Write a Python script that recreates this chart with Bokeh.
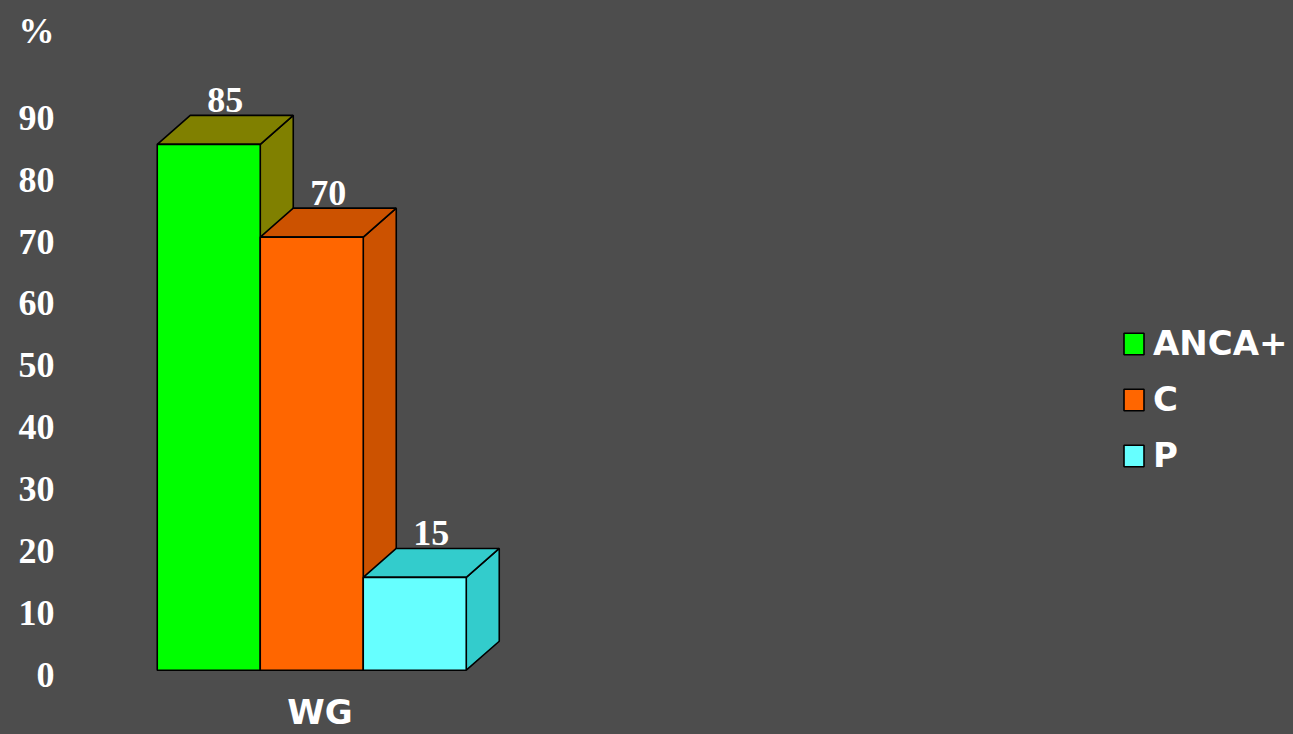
from bokeh.plotting import figure
from bokeh.models import (Range1d, LinearAxis, FixedTicker, Legend, LegendItem,
                          ColumnDataSource)
from bokeh.core.properties import value
from bokeh.embed import file_html
from bokeh.resources import INLINE

# ---------------- data ----------------
categories = ["WG"]
series = ["ANCA+", "C", "P"]
values = [85, 70, 15]
y_ticks = [0, 10, 20, 30, 40, 50, 60, 70, 80, 90]
y_unit = "%"

# ---------------- style ----------------
BG = "#4D4D4D"
front_colors = ["#00FF00", "#FF6600", "#66FFFF"]
side_colors = ["#808000", "#CC5200", "#33CCCC"]
TXT = "#FFFFFF"

W, H = 1293, 734
LB = 68                          # left border (frame starts here)
FRAME_BOTTOM = 676               # pixel row of frame bottom
BASE = 670.7                     # pixel row of bar baseline
BB = H - FRAME_BOTTOM
frame_w, frame_h = W - LB, FRAME_BOTTOM
PX_X = 103.0                     # pixels per bar width
PX_Y = 6.196                     # pixels per percent
DX = 33 / PX_X                   # depth offset (x, data units)
DY = 29 / PX_Y                   # depth offset (y, data units)
TICK_SHIFT = 4.5 / PX_Y          # tick labels sit a little below the marks
UNIT_POS = 104                   # where the "%" unit label sits on the axis

x_start = -(319.5 - LB) / PX_X
x_end = x_start + frame_w / PX_X
y_start = -(FRAME_BOTTOM - BASE) / PX_Y
y_end = y_start + frame_h / PX_Y

p = figure(width=W, height=H, output_backend="svg", toolbar_location=None,
           x_range=Range1d(x_start, x_end), y_range=Range1d(y_start, y_end),
           y_axis_location=None, x_axis_location="below",
           min_border_left=LB, min_border_right=0, min_border_top=0,
           min_border_bottom=BB, background_fill_color=None,
           border_fill_color=None, outline_line_color=None)
p.styles = {"background-color": BG}
p.grid.visible = False

# y axis (own range so labels sit where the original had them)
p.extra_y_ranges = {"ticks": Range1d(y_start + TICK_SHIFT, y_end + TICK_SHIFT)}
yax = LinearAxis(y_range_name="ticks",
                 ticker=FixedTicker(ticks=y_ticks + [UNIT_POS]))
yax.major_label_overrides = {UNIT_POS: y_unit}
yax.axis_line_color = None
yax.major_tick_line_color = None
yax.minor_tick_line_color = None
yax.major_tick_out = 0
yax.major_tick_in = 0
yax.major_label_standoff = 14
yax.major_label_text_font = "Liberation Serif"
yax.major_label_text_font_style = "bold"
yax.major_label_text_font_size = "36px"
yax.major_label_text_color = TXT
p.add_layout(yax, "left")

# x axis with the single category
xax = p.xaxis[0]
xax.ticker = FixedTicker(ticks=[0])
xax.major_label_overrides = {0: categories[0]}
xax.axis_line_color = None
xax.major_tick_line_color = None
xax.minor_tick_line_color = None
xax.major_tick_out = 0
xax.major_tick_in = 0
xax.major_label_standoff = 16
xax.major_label_text_font = "DejaVu Sans"
xax.major_label_text_font_style = "bold"
xax.major_label_text_font_size = "34px"
xax.major_label_text_color = TXT

# ---------------- 3D bars ----------------
n = len(values)
items = []
for i, (name, v) in enumerate(zip(series, values)):
    cx = i - (n - 1) / 2 - DX / 4
    x0, x1 = cx - 0.5, cx + 0.5
    side = ColumnDataSource(dict(
        xs=[[x1, x1 + DX, x1 + DX, x1]],
        ys=[[0, DY, v + DY, v]]))
    top = ColumnDataSource(dict(
        xs=[[x0, x1, x1 + DX, x0 + DX]],
        ys=[[v, v, v + DY, v + DY]]))
    p.patches("xs", "ys", source=side, fill_color=side_colors[i],
              line_color="black", line_width=1.6)
    p.patches("xs", "ys", source=top, fill_color=side_colors[i],
              line_color="black", line_width=1.6)
    r = p.quad(left=[x0], right=[x1], bottom=[0], top=[v],
               fill_color=front_colors[i], line_color="black", line_width=1.6)
    items.append(LegendItem(label=name, renderers=[r]))
    p.text(x=[cx + DX / 2], y=[v + DY], text=[str(v)],
           text_align="center", text_baseline="bottom", y_offset=-3,
           text_font=value("Liberation Serif"), text_font_style="bold",
           text_font_size="36px", text_color=TXT)

# ---------------- legend ----------------
leg = Legend(items=items, location=(1053, 200), orientation="vertical")
leg.background_fill_alpha = 0
leg.border_line_alpha = 0
leg.padding = 0
leg.margin = 0
leg.spacing = 16
leg.glyph_width = 25
leg.glyph_height = 27
leg.label_height = 22
leg.label_standoff = 7
leg.label_text_font = "DejaVu Sans"
leg.label_text_font_style = "bold"
leg.label_text_font_size = "34px"
leg.label_text_color = TXT
p.add_layout(leg, "center")

open("out.html", "w").write(file_html(p, INLINE))
